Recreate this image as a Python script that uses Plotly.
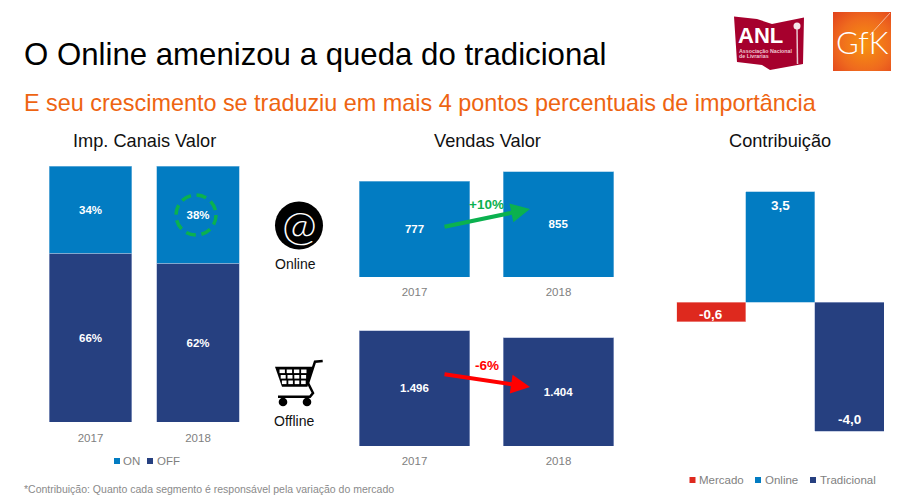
import base64
import plotly.graph_objects as go

# ---- data ----
years = ["2017", "2018"]
imp_on = [34, 38]
imp_off = [66, 62]
vendas_online = [777, 855]
vendas_offline = [1496, 1404]
contrib_labels = ["Mercado", "Online", "Tradicional"]
contrib_values = [-0.62, 3.45, -4.04]

W, H = 900, 497
BLUE, NAVY, RED = "#027CC2", "#264080", "#DE291E"
GREEN, ARROW_RED, ORANGE = "#0BB14F", "#FF0000", "#EE6411"
GREY, FONT = "#7F7F7F", "Liberation Sans"
EDGE = {BLUE: "#8CC2E2", NAVY: "#A3B1D2", RED: "#F2A9A5"}


def X(px):
    return px / W


def Y(px):
    return 1 - px / H


def path(points, close=True):
    d = "M" + " L".join(f"{X(a):.5f},{Y(b):.5f}" for a, b in points)
    return d + (" Z" if close else "")


fig = go.Figure()


def bar(x, y, color, xa, ya, width, template=None, size=11.5, **kw):
    fig.add_bar(
        x=x, y=y, xaxis=xa, yaxis=ya, width=width,
        marker=dict(color=color, line=dict(color=EDGE[color], width=0.6)),
        texttemplate=template, textposition="inside" if template else "none",
        insidetextanchor="middle",
        textfont=dict(family=FONT, size=size, color="white", weight="bold"),
        constraintext="none", cliponaxis=False, showlegend=False, **kw,
    )


# stacked shares
bar(years, imp_off, NAVY, "x", "y", 0.77, "%{y}%", name="OFF")
bar(years, imp_on, BLUE, "x", "y", 0.77, "%{y}%", name="ON")
# sales
bar(years, vendas_online, BLUE, "x2", "y2", 0.77, "%{y:,d}", name="Online")
bar(years, vendas_offline, NAVY, "x3", "y3", 0.77, "%{y:,d}", name="Offline")
# contribution
for lab, val, col in zip(contrib_labels, contrib_values, [RED, BLUE, NAVY]):
    bar([lab], [val], col, "x4", "y4", 1, name=lab)


def xaxis(left, right, anchor, visible=True, rng=(-0.5, 1.5), ticklen=5):
    return dict(domain=[X(left), X(right)], anchor=anchor, range=list(rng), type="category",
                showgrid=False, zeroline=False, showline=False, visible=visible,
                ticks="outside", ticklen=ticklen, tickcolor="rgba(0,0,0,0)",
                tickfont=dict(family=FONT, size=11.5, color=GREY))


def yaxis(top, bottom, rng, anchor):
    return dict(domain=[Y(bottom), Y(top)], range=list(rng), anchor=anchor, visible=False,
                showgrid=False, zeroline=False)


layout_axes = dict(
    xaxis=xaxis(36.75, 251.75, "y"),
    yaxis=yaxis(166, 422, (0, 100), "x"),
    xaxis2=xaxis(342.5, 630.5, "y2", ticklen=4),
    yaxis2=yaxis(166, 277, (0, 900), "x2"),
    xaxis3=xaxis(342.5, 630.5, "y3", ticklen=4),
    yaxis3=yaxis(322.5, 446, (0, 1600), "x3"),
    xaxis4=xaxis(676.5, 884, "y4", visible=False, rng=(-0.5, 2.5)),
    yaxis4=yaxis(174, 446, (-4.5, 4), "x4"),
)

ann = []


def text(px, py, s, size, color="#111111", anchor="center", bold=False, family=FONT, weight=None):
    ann.append(dict(xref="paper", yref="paper", x=X(px), y=Y(py), text=s, showarrow=False,
                    xanchor=anchor, yanchor="middle", borderpad=0,
                    font=dict(family=family, size=size, color=color,
                              weight=weight or ("bold" if bold else "normal"))))


def arrow(x0, y0, x1, y1, color):
    ann.append(dict(xref="paper", yref="paper", x=X(x1), y=Y(y1), ax=x0 - x1, ay=y0 - y1,
                    axref="pixel", ayref="pixel", text="", showarrow=True, arrowhead=2,
                    arrowsize=0.95, arrowwidth=4, arrowcolor=color, standoff=0, startstandoff=0))


# contribution value labels, bound to the bars' data coordinates
for lab, val, shift in zip(contrib_labels, contrib_values, [7, -14, 12]):
    ann.append(dict(xref="x4", yref="y4", x=lab, y=val, yshift=shift, showarrow=False,
                    text=f"{val:.1f}".replace(".", ","), xanchor="center", yanchor="middle",
                    font=dict(family=FONT, size=13.5, color="white", weight="bold")))

text(23, 54, "O Online amenizou a queda do tradicional", 31.2, "#000000", "left")
text(23, 103, "E seu crescimento se traduziu em mais 4 pontos percentuais de importância", 23.4, ORANGE, "left")
text(144, 141, "Imp. Canais Valor", 18.2)
text(487, 141, "Vendas Valor", 18.2)
text(780, 141, "Contribuição", 18.2)
text(295, 264, "Online", 14)
text(294, 421, "Offline", 14)
text(23, 489, "*Contribuição: Quanto cada segmento é responsável pela variação do mercado", 10.5, "#8A8A8A", "left")
text(486.5, 204.5, "+10%", 13.5, GREEN, bold=True)
text(487, 365, "-6%", 13.5, ARROW_RED, bold=True)
arrow(443, 227, 530, 209, GREEN)
arrow(443, 374, 530, 387, ARROW_RED)

# legends
text(122, 461, "ON", 11.5, GREY, "left")
text(156, 461, "OFF", 11.5, GREY, "left")
text(698, 480, "Mercado", 11.5, GREY, "left")
text(764, 480, "Online", 11.5, GREY, "left")
text(819, 480, "Tradicional", 11.5, GREY, "left")

shapes = []


def rect(x0, y0, x1, y1, color):
    shapes.append(dict(type="rect", xref="paper", yref="paper", x0=X(x0), x1=X(x1),
                       y0=Y(y0), y1=Y(y1), fillcolor=color, line_width=0))


def circle(cx, cy, r, fill=None, line=None, lw=0, dash=None):
    shapes.append(dict(type="circle", xref="paper", yref="paper", x0=X(cx - r), x1=X(cx + r),
                       y0=Y(cy - r), y1=Y(cy + r), fillcolor=fill or "rgba(0,0,0,0)",
                       line=dict(color=line or "rgba(0,0,0,0)", width=lw, dash=dash or "solid")))


def poly(points, fill=None, line=None, lw=0, close=True):
    shapes.append(dict(type="path", xref="paper", yref="paper", path=path(points, close),
                       fillcolor=fill or "rgba(0,0,0,0)",
                       line=dict(color=line or "rgba(0,0,0,0)", width=lw)))


for x0, y0, col in [(114, 458, BLUE), (147, 458, NAVY), (689.5, 477, RED), (755, 477, BLUE), (810, 477, NAVY)]:
    rect(x0, y0, x0 + 6, y0 + 6, col)

# highlight ring
circle(196, 215, 20, line=GREEN, lw=3.5, dash="10px,5.7px")

# @ icon
circle(299, 225.5, 24, fill="#000000")
text(299, 224, "@", 42, "#FFFFFF", family="Lato", weight=300)

# cart icon
poly([(322.7, 361), (315, 361.7), (308, 383), (313, 393), (310, 396.7), (278, 396.7)],
     line="#000000", lw=2.5, close=False)
poly([(275, 366.7), (312.5, 366.7), (307.5, 386.7), (282, 386.7)], fill="#000000")
for row in range(3):
    pitch = 7.2 - row * 0.4
    for col in range(4):
        cx0 = 279.5 + row * 1.2 + col * pitch
        rect(cx0, 369.5 + row * 5.5, cx0 + pitch - 1.8, 373.1 + row * 5.5, "#FFFFFF")
circle(283, 402, 4.3, fill="#000000")
circle(307, 402, 4.3, fill="#000000")

# ANL logo
ANL_RED = "#A6002D"
poly([(734, 16.5), (757, 19), (772, 24), (804, 17.5), (803, 64), (770, 70), (762, 65), (737, 62)], fill=ANL_RED)
poly([(797, 28), (797.5, 64)], line="#E9C6CF", lw=1.5, close=False)
circle(797, 26, 3.5, fill="#F6E5EA")
text(760.5, 35, "ANL", 22, "#FFFFFF", bold=True)
text(737.5, 51, "Associação Nacional", 5.3, "#F0C8D2", "left", bold=True)
text(737.5, 56, "de Livrarias", 5.3, "#F0C8D2", "left", bold=True)

# GfK logo background
svg = (
    '<svg xmlns="http://www.w3.org/2000/svg" width="58" height="59">'
    '<defs><radialGradient id="g" cx="0.55" cy="0.55" r="0.75">'
    '<stop offset="0" stop-color="#F7930F"/><stop offset="0.6" stop-color="#EF6A1E"/>'
    '<stop offset="1" stop-color="#E2451D"/></radialGradient></defs>'
    '<rect width="58" height="59" fill="url(#g)"/></svg>'
)
logo = "data:image/svg+xml;base64," + base64.b64encode(svg.encode()).decode()
images = [dict(source=logo, xref="paper", yref="paper", x=X(833), y=Y(12), sizex=58 / W, sizey=59 / H,
               xanchor="left", yanchor="top", sizing="stretch", layer="below")]
poly([(870, 35), (890, 13)], line="rgba(255,255,255,0.55)", lw=1, close=False)
text(862, 42, "GfK", 31, "#FFFFFF", family="Lato", weight=300)

fig.update_layout(
    width=W, height=H, autosize=False, margin=dict(l=0, r=0, t=0, b=0),
    paper_bgcolor="white", plot_bgcolor="rgba(0,0,0,0)",
    barmode="stack", separators=",.", showlegend=False,
    font=dict(family=FONT), annotations=ann, shapes=shapes, images=images,
    **layout_axes,
)

fig.write_html("out.html", config={"displayModeBar": False},
               post_script="document.body.style.margin='0';document.body.style.overflow='hidden';")
